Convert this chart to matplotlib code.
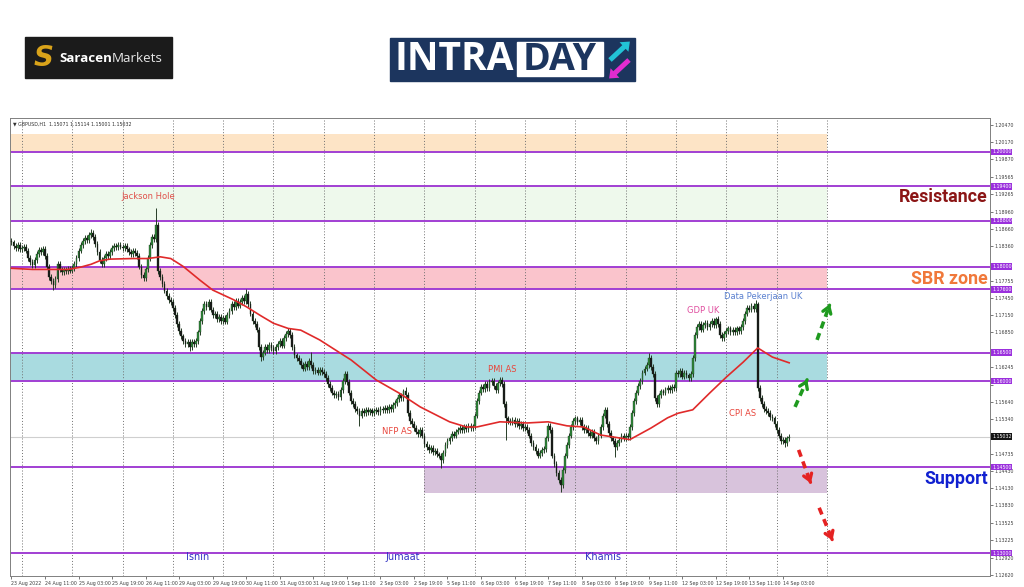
import matplotlib
matplotlib.use("Agg")
import matplotlib.pyplot as plt
from matplotlib.patches import Rectangle, FancyArrow
from matplotlib.transforms import blended_transform_factory

# GBPUSD H1 closes, in pips above 1.1000 (23 Aug 19:00 -> 14 Sep 06:00)
closes = [
    842, 836, 833, 838, 830,
    832, 835, 828, 815, 808, 803, 812, 822, 829, 826, 831, 818, 800, 782, 775, 768, 778, 805, 795, 790, 794, 792, 796, 793,
    798, 805, 815, 828, 838, 845, 850, 846, 855, 858, 852, 840, 826, 812, 805, 815, 822, 818, 826, 832, 836, 834, 838, 835,
    832, 836, 830, 826, 822, 828, 824, 818, 800, 785, 780, 795, 815, 838, 852, 848, 873, 792, 782, 770, 758, 748, 742, 738,
    728, 715, 700, 688, 678, 670, 665, 668, 660, 668, 664, 670, 685, 705, 722, 735, 730, 738, 725, 715, 718, 708, 712, 705,
    710, 704, 715, 722, 735, 730, 740, 732, 738, 745, 740, 752, 735, 718, 705, 700, 690, 660, 642, 650, 660, 655, 663, 658,
    652, 660, 665, 670, 662, 675, 682, 688, 680, 660, 645, 640, 635, 628, 622, 630, 625, 635, 628, 618, 620, 615, 619, 616,
    612, 605, 595, 588, 580, 575, 578, 572, 585, 600, 612, 598, 580, 565, 560, 552, 548, 540, 548, 545, 550, 546, 549, 545,
    548, 550, 546, 552, 549, 553, 550, 555, 552, 558, 562, 568, 575, 570, 582, 576, 545, 530, 525, 518, 512, 508, 515, 505,
    490, 485, 480, 483, 476, 478, 472, 470, 462, 475, 488, 495, 500, 508, 505, 512, 515, 518, 514, 520, 517, 522, 518, 521,
    540, 565, 580, 590, 586, 595, 588, 598, 600, 592, 585, 596, 602, 595, 560, 535, 530, 528, 532, 525, 530, 522, 526, 518,
    520, 515, 505, 492, 485, 478, 470, 475, 480, 482, 500, 522, 515, 470, 455, 440, 428, 418, 445, 470, 488, 505, 520, 530,
    535, 528, 532, 520, 515, 518, 510, 505, 512, 500, 495, 505, 520, 540, 550, 525, 510, 500, 495, 485, 492, 498, 505, 500,
    504, 502, 520, 545, 565, 580, 592, 600, 615, 622, 628, 640, 625, 612, 570, 560, 575, 582, 580, 585, 588, 584, 590, 588,
    615, 612, 618, 608, 615, 610, 605, 612, 640, 680, 695, 700, 690, 698, 702, 695, 700, 705, 698, 708, 700, 680, 675, 682,
    688, 692, 686, 690, 685, 692, 688, 695, 705, 718, 728, 725, 732, 726, 734, 588, 570, 560, 552, 548, 545, 538, 535, 525,
    515, 505, 495, 498, 492, 500, 503,
]
first_open = 845
spike_highs = {38: 866, 69: 902, 112: 760, 143: 651, 188: 590, 233: 608, 304: 650, 336: 712, 355: 742}
spike_lows = {20: 759, 85: 652, 119: 635, 166: 521, 205: 448, 236: 497, 262: 406, 288: 468, 369: 485}

# red moving average, read at points along the line
ma_bars = [0, 10, 27, 33, 38, 42, 47, 58, 65, 71, 76, 82, 90, 96, 106, 112, 119, 125, 132, 138,
           147, 162, 174, 185, 195, 209, 217, 222, 233, 246, 256, 265, 273, 281, 295, 305, 313, 318,
           325, 333, 341, 349, 356, 363, 371]
ma_vals = [797, 795, 795, 799, 804, 810, 813, 814, 814, 817, 814, 800, 776, 759, 742, 730, 714, 701, 692, 689,
           672, 637, 602, 579, 555, 529, 520, 520, 529, 527, 529, 522, 520, 506, 498, 518, 536, 544,
           550, 579, 607, 633, 658, 642, 632]

date_labels = ["23 Aug 2022", "24 Aug 11:00", "25 Aug 03:00", "25 Aug 19:00", "26 Aug 11:00",
               "29 Aug 03:00", "29 Aug 19:00", "30 Aug 11:00", "31 Aug 03:00", "31 Aug 19:00",
               "1 Sep 11:00", "2 Sep 03:00", "2 Sep 19:00", "5 Sep 11:00", "6 Sep 03:00",
               "6 Sep 19:00", "7 Sep 11:00", "8 Sep 03:00", "8 Sep 19:00", "9 Sep 11:00",
               "12 Sep 03:00", "12 Sep 19:00", "13 Sep 11:00", "14 Sep 03:00"]
price_ticks = [1.20470, 1.20170, 1.19870, 1.19565, 1.19265, 1.18960, 1.18660, 1.18360, 1.18055,
               1.17755, 1.17450, 1.17150, 1.16850, 1.16545, 1.16245, 1.15940, 1.15640, 1.15340,
               1.15035, 1.14735, 1.14430, 1.14130, 1.13830, 1.13525, 1.13225, 1.12920, 1.12620]
levels = [1.2000, 1.1940, 1.1880, 1.1800, 1.1760, 1.1650, 1.1600, 1.1450, 1.1300]
last_price = 1.15032
zones = [(1.2000, 1.2032, "#fde4c6"), (1.1880, 1.1940, "#eef9ec"), (1.1760, 1.1800, "#fac4cc"),
         (1.1600, 1.1650, "#a9dbe0")]
support_zone = (1.1405, 1.1450)

PURPLE = "#a13fd3"

prices_c = [1.1 + v / 10000 for v in closes]
opens = [1.1 + first_open / 10000] + prices_c[:-1]
n = len(prices_c)

fig = plt.figure(figsize=(10.24, 5.87), dpi=100)

# ---- logos (pixel coordinates) ----
lax = fig.add_axes([0, 0, 1, 1])
lax.set_xlim(0, 1024)
lax.set_ylim(587, 0)
lax.axis("off")
lax.add_patch(Rectangle((25, 37), 147, 41, color="#1b1b1b"))
lax.text(44, 58, "S", color="#d9a31a", fontsize=20, fontweight="bold", style="italic",
         ha="center", va="center", family="DejaVu Sans")
t1 = lax.text(59, 58, "Saracen", color="white", fontsize=9.6, fontweight="bold",
              ha="left", va="center", family="Open Sans")
r = fig.canvas.get_renderer()
bb = t1.get_window_extent(r)
x_end = lax.transData.inverted().transform((bb.x1, bb.y0))[0]
lax.text(x_end, 58, "Markets", color="#e8e8e8", fontsize=9.6, ha="left", va="center", family="Open Sans")

lax.add_patch(Rectangle((390, 38), 245, 43, color="#1c355e"))
lax.text(394, 60, "INTRA", color="white", fontsize=28, fontweight="bold", ha="left", va="center",
         family="Open Sans")
lax.add_patch(Rectangle((517, 42), 86, 34, color="white"))
lax.text(560, 60, "DAY", color="#1c355e", fontsize=27, fontweight="bold", ha="center", va="center",
         family="Open Sans")
lax.add_patch(FancyArrow(610, 60, 14, -13, width=5, head_width=13, head_length=8, color="#22c3d6", lw=0))
lax.add_patch(FancyArrow(629, 60, -14, 13, width=5, head_width=13, head_length=8, color="#e22ccf", lw=0))

# ---- chart ----
ax = fig.add_axes([10 / 1024, 11 / 587, 980 / 1024, 458 / 587])
ax.set_xlim(-0.7, 466.8)
ax.set_ylim(1.12599, 1.20593)
ax.set_facecolor("white")

x_zone_end = 389
for lo, hi, col in zones:
    ax.fill_between([-0.7, x_zone_end], lo, hi, color=col, lw=0, zorder=0)
ax.fill_between([197, x_zone_end], support_zone[0], support_zone[1], color="#d8c3dc", lw=0, zorder=0)

for d in range(5, 390, 24):
    ax.axvline(d, color="#707070", lw=0.7, ls=(0, (1, 2)), zorder=1)

ax.axhline(last_price, color="#cfcfcf", lw=0.8, zorder=1)
for lv in levels:
    ax.axhline(lv, color=PURPLE, lw=1.4, zorder=2)

# candles
for i in range(n):
    o, c = opens[i], prices_c[i]
    hi = max(o, c) + 0.0005
    lo = min(o, c) - 0.0005
    if i in spike_highs:
        hi = 1.1 + spike_highs[i] / 10000
    if i in spike_lows:
        lo = 1.1 + spike_lows[i] / 10000
    ax.vlines(i, lo, hi, color="#263d26", lw=0.7, zorder=3)
    body = max(abs(c - o), 0.00015)
    ax.bar(i, body, bottom=min(o, c), width=0.85, color="#2f8a3a" if c >= o else "#181818",
           edgecolor="#1a2a1a", lw=0.25, zorder=4)

ax.plot(ma_bars, [1.1 + v / 10000 for v in ma_vals], color="#e02a2a", lw=1.2, zorder=5)

# arrows
def dashed_arrow(x0, y0, x1, y1, col):
    ax.plot([x0, x1], [y0, y1], color=col, lw=2.6, ls=(0, (2.0, 1.4)), zorder=6)
    ax.annotate("", xy=(x1 + (x1 - x0) * 0.12, y1 + (y1 - y0) * 0.12), xytext=(x1, y1),
                arrowprops=dict(arrowstyle="->,head_length=0.45,head_width=0.3", color=col, lw=2.4),
                zorder=6)

dashed_arrow(373.8, 1.1555, 379.0, 1.1598, "#1f9a1f")
dashed_arrow(384.3, 1.1672, 389.8, 1.1728, "#1f9a1f")
dashed_arrow(375.5, 1.1480, 380.7, 1.1428, "#e52222")
dashed_arrow(385.3, 1.1379, 391.0, 1.1328, "#e52222")

# event labels
ev = dict(fontsize=6, ha="center", va="center", zorder=7)
ax.text(65.1, 1.19215, "Jackson Hole", color="#e0504a", **ev)
ax.text(183.9, 1.15113, "NFP AS", color="#e8463c", **ev)
ax.text(234.0, 1.16195, "PMI AS", color="#e8463c", **ev)
ax.text(329.9, 1.17225, "GDP UK", color="#e050a0", **ev)
ax.text(358.5, 1.17486, "Data Pekerjaan UK", color="#5a80d0", **ev)
ax.text(349.0, 1.15427, "CPI AS", color="#e8463c", **ev)
day = dict(fontsize=7, ha="center", va="center", color="#3434c4", zorder=7)
ax.text(89.0, 1.12926, "Isnin", **day)
ax.text(186.8, 1.12926, "Jumaat", **day)
ax.text(282.2, 1.12926, "Khamis", **day)

tr = blended_transform_factory(ax.transAxes, ax.transData)
big = dict(fontsize=12.8, fontweight="bold", ha="right", va="center", family="Roboto", zorder=7,
           transform=tr)
ax.text(0.9975, 1.19215, "Resistance", color="#8b1515", **big)
ax.text(0.9975, 1.17791, "SBR zone", color="#f0783a", **big)
ax.text(0.9975, 1.14300, "Support", color="#1020d0", **big)

ax.text(0.003, 0.993, "\u25bc GBPUSD,H1  1.15071 1.15114 1.15001 1.15032", transform=ax.transAxes,
        fontsize=3.4, va="top", ha="left", color="#303030")

# axes: right price scale, bottom dates
ax.yaxis.tick_right()
ax.set_yticks(price_ticks)
# labels hidden behind the highlighted level boxes are left blank
hidden = [p for p in price_ticks
          if any(abs(p - lv) < 0.0006 for lv in levels + [last_price])]
ax.set_yticklabels(["" if p in hidden else "%.5f" % p for p in price_ticks])
ax.tick_params(axis="y", labelsize=3.4, colors="#404040", length=2, width=0.5, pad=1.5)
ax.set_xticks(list(range(0, 16 * len(date_labels), 16)))
ax.set_xticklabels(date_labels, ha="left")
ax.tick_params(axis="x", labelsize=3.4, colors="#404040", length=2, width=0.5, pad=1.5)
for sp in ax.spines.values():
    sp.set_color("#808080")
    sp.set_linewidth(0.7)

for lv in levels:
    ax.text(1.002, lv, "%.5f" % lv, transform=tr, fontsize=3.4, color="white", ha="left", va="center",
            bbox=dict(boxstyle="square,pad=0.15", fc="#9b30dd", ec="none"), clip_on=False, zorder=8)
ax.text(1.002, last_price, "%.5f" % last_price, transform=tr, fontsize=3.4, color="white", ha="left",
        va="center", bbox=dict(boxstyle="square,pad=0.15", fc="#151515", ec="none"), clip_on=False, zorder=8)

fig.savefig("out.png", dpi=100)
